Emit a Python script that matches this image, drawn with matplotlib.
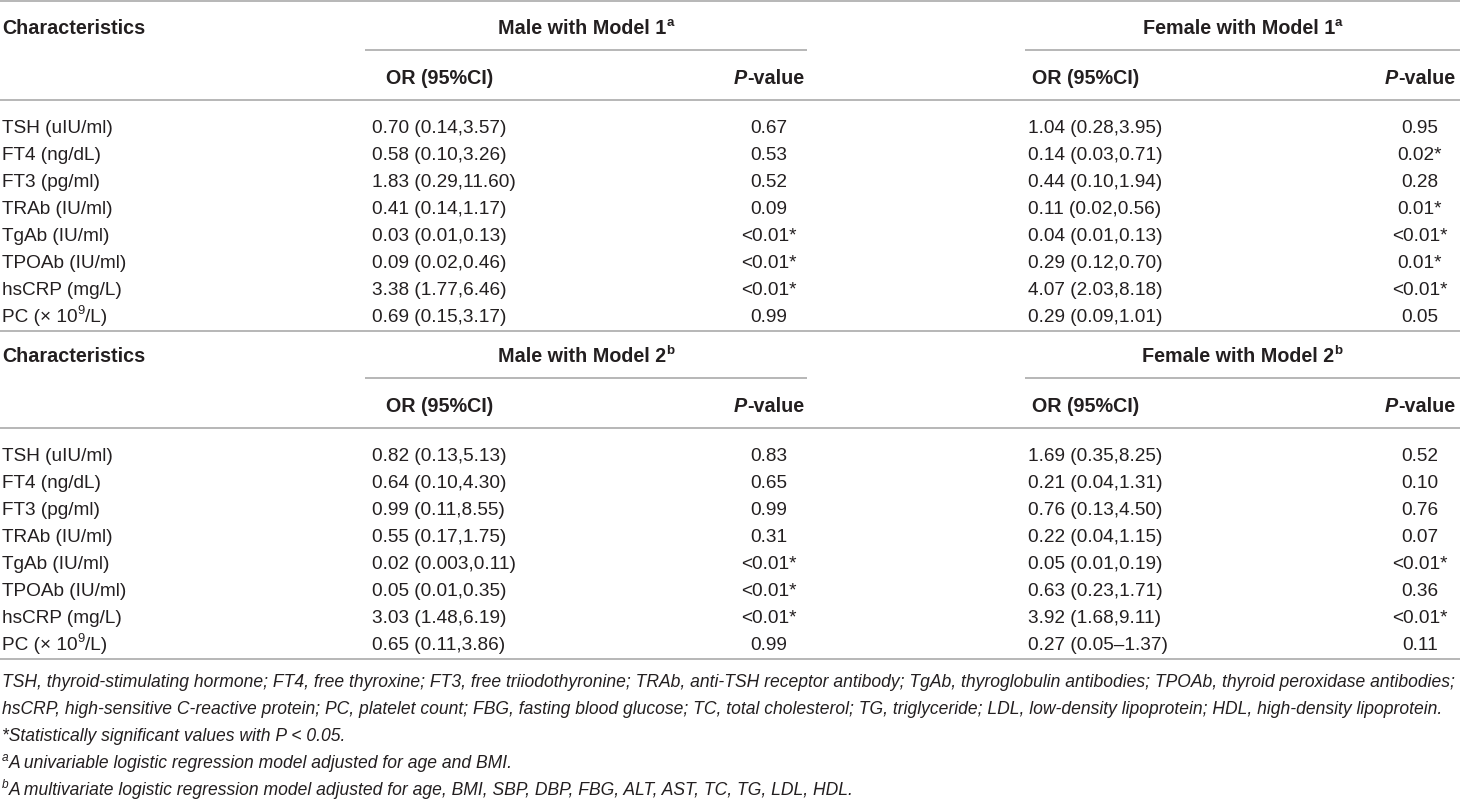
import matplotlib
matplotlib.use('Agg')
import matplotlib.pyplot as plt

# table contents
characteristics = ['TSH (uIU/ml)', 'FT4 (ng/dL)', 'FT3 (pg/ml)', 'TRAb (IU/ml)',
                   'TgAb (IU/ml)', 'TPOAb (IU/ml)', 'hsCRP (mg/L)', 'PC (× 10^9/L)']

male_m1_or = ['0.70 (0.14,3.57)', '0.58 (0.10,3.26)', '1.83 (0.29,11.60)', '0.41 (0.14,1.17)',
              '0.03 (0.01,0.13)', '0.09 (0.02,0.46)', '3.38 (1.77,6.46)', '0.69 (0.15,3.17)']
male_m1_p = ['0.67', '0.53', '0.52', '0.09', '<0.01*', '<0.01*', '<0.01*', '0.99']
female_m1_or = ['1.04 (0.28,3.95)', '0.14 (0.03,0.71)', '0.44 (0.10,1.94)', '0.11 (0.02,0.56)',
                '0.04 (0.01,0.13)', '0.29 (0.12,0.70)', '4.07 (2.03,8.18)', '0.29 (0.09,1.01)']
female_m1_p = ['0.95', '0.02*', '0.28', '0.01*', '<0.01*', '0.01*', '<0.01*', '0.05']

male_m2_or = ['0.82 (0.13,5.13)', '0.64 (0.10,4.30)', '0.99 (0.11,8.55)', '0.55 (0.17,1.75)',
              '0.02 (0.003,0.11)', '0.05 (0.01,0.35)', '3.03 (1.48,6.19)', '0.65 (0.11,3.86)']
male_m2_p = ['0.83', '0.65', '0.99', '0.31', '<0.01*', '<0.01*', '<0.01*', '0.99']
female_m2_or = ['1.69 (0.35,8.25)', '0.21 (0.04,1.31)', '0.76 (0.13,4.50)', '0.22 (0.04,1.15)',
                '0.05 (0.01,0.19)', '0.63 (0.23,1.71)', '3.92 (1.68,9.11)', '0.27 (0.05–1.37)']
female_m2_p = ['0.52', '0.10', '0.76', '0.07', '<0.01*', '0.36', '<0.01*', '0.11']

sections = [
    ('Male with Model 1', 'Female with Model 1', 'a', male_m1_or, male_m1_p, female_m1_or, female_m1_p),
    ('Male with Model 2', 'Female with Model 2', 'b', male_m2_or, male_m2_p, female_m2_or, female_m2_p),
]

footnotes = [
    ('', 'TSH, thyroid-stimulating hormone; FT4, free thyroxine; FT3, free triiodothyronine; '
         'TRAb, anti-TSH receptor antibody; TgAb, thyroglobulin antibodies; TPOAb, thyroid peroxidase antibodies;'),
    ('', 'hsCRP, high-sensitive C-reactive protein; PC, platelet count; FBG, fasting blood glucose; '
         'TC, total cholesterol; TG, triglyceride; LDL, low-density lipoprotein; HDL, high-density lipoprotein.'),
    ('', '*Statistically significant values with P < 0.05.'),
    ('a', 'A univariable logistic regression model adjusted for age and BMI.'),
    ('b', 'A multivariate logistic regression model adjusted for age, BMI, SBP, DBP, FBG, ALT, AST, TC, TG, LDL, HDL.'),
]

W, H = 1460, 801
TXT = '#231f20'
RULE = '#a3a3a3'
FS = 13.7      # body
FS_B = 14.2    # bold headers
plt.rcParams['font.family'] = ['Liberation Sans', 'DejaVu Sans']

fig = plt.figure(figsize=(W / 100, H / 100), dpi=100)
ax = fig.add_axes([0, 0, 1, 1])
ax.set_xlim(0, W)
ax.set_ylim(H, 0)
ax.axis('off')
renderer = fig.canvas.get_renderer()


def runs_of(label):
    # "text^sup/rest" -> runs with superscript pieces
    if '^' not in label:
        return [(label, False)]
    head, tail = label.split('^', 1)
    return [(head, False), (tail[0], True), (tail[1:], False)]


def draw_runs(x, yc, runs, ha='left', size=FS, weight='normal', style='normal'):
    base = yc + 0.36 * size * 100 / 72
    items = []
    for item in runs:
        s, sup = item[0], item[1]
        st = item[2] if len(item) > 2 else style
        fs = size * 0.68 if sup else size
        t = ax.text(0, base, s, fontsize=fs, fontweight=weight, fontstyle=st,
                    color=TXT, va='baseline', ha='left')
        w = t.get_window_extent(renderer).width if s else 0
        items.append((t, w, sup))
    total = sum(w for _, w, _ in items)
    if ha == 'center':
        x0 = x - total / 2
    elif ha == 'right':
        x0 = x - total
    else:
        x0 = x
    for t, w, sup in items:
        t.set_x(x0)
        if sup:
            t.set_y(base - 0.42 * size * 100 / 72)
        x0 += w


def rule(y, x0=0, x1=W):
    ax.plot([x0, x1], [y, y], color=RULE, lw=1.1, solid_capstyle='butt')


pitch = 27
male_span = (365, 807)
female_span = (1025, W)
male_or_x, female_or_x = 372, 1028
male_or_c, female_or_c = 440, 1086
male_p_c, female_p_c = 769, 1420

rule(1)
for k, (mt, ft, mark, mor, mp, f_or, fp) in enumerate(sections):
    off = k * 328
    draw_runs(2, 27 + off, [('Characteristics', False)], size=FS_B, weight='bold')
    draw_runs(sum(male_span) / 2, 27 + off, [(mt, False), (mark, True)],
              ha='center', size=FS_B, weight='bold')
    draw_runs(sum(female_span) / 2, 27 + off, [(ft, False), (mark, True)],
              ha='center', size=FS_B, weight='bold')
    rule(50 + off, *male_span)
    rule(50 + off, *female_span)
    for orc, pc in ((male_or_c, male_p_c), (female_or_c, female_p_c)):
        draw_runs(orc, 77 + off, [('OR (95%CI)', False)], ha='center', size=FS_B, weight='bold')
        draw_runs(pc, 77 + off, [('P', False, 'italic'), ('-value', False)],
                  ha='center', size=FS_B, weight='bold')
    rule(100 + off)
    for i, lab in enumerate(characteristics):
        y = 126 + off + i * pitch
        draw_runs(2, y, runs_of(lab))
        draw_runs(male_or_x, y, [(mor[i], False)])
        draw_runs(male_p_c, y, [(mp[i], False)], ha='center')
        draw_runs(female_or_x, y, [(f_or[i], False)])
        draw_runs(female_p_c, y, [(fp[i], False)], ha='center')
    rule(126 + off + 7 * pitch + 16)

# footnotes, size fitted so the first line spans the table width
probe = ax.text(0, 0, footnotes[0][1], fontsize=12, fontstyle='italic')
fn_size = 12 * 1455 / probe.get_window_extent(renderer).width
probe.remove()
for j, (mark, line) in enumerate(footnotes):
    y = 681 + j * 27
    runs = [(mark, True), (line, False)] if mark else [(line, False)]
    draw_runs(2, y, runs, size=fn_size, style='italic')

fig.savefig('out.png', dpi=100)
